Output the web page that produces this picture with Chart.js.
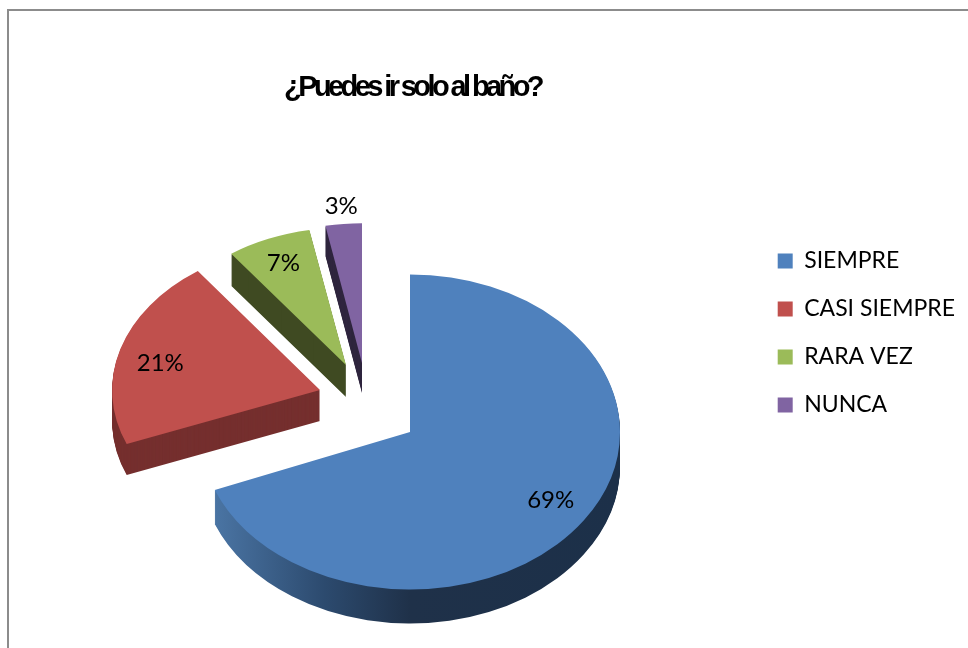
<!DOCTYPE html>
<html>
<head>
<meta charset="utf-8">
<script src="https://cdn.jsdelivr.net/npm/chart.js@4"></script>
<style>
    html, body { margin: 0; padding: 0; background: #fff; overflow: hidden; }
    #marco { position: absolute; left: 7px; top: 9px; right: 0; bottom: 0; border-top: 2px solid #8c8c8c; border-left: 2px solid #8c8c8c; }
    #grafica { position: absolute; left: 0; top: 0; }
</style>
</head>
<body>
<div id="marco"></div>
<canvas id="grafica" width="968" height="648"></canvas>
<script>
const titulo = '¿Puedes ir solo al baño?';
const categorias = ['SIEMPRE', 'CASI SIEMPRE', 'RARA VEZ', 'NUNCA'];
const valores = [69, 21, 7, 3];

const colores = ['#4f81bd', '#c0504d', '#9bbb59', '#8064a2'];
const coloresLado = [null, '#752f2e', '#3f4a22', '#30263f'];

// el falso 3D: separacion de cada porcion y su achatado
const centroPastel = { x: 367, y: 403 };
const separacion = [[43, 29], [-47, -13], [-21, -38], [-5, -40]];
const escalaX = [1, 0.99, 0.93, 0.93];
const escalaY = [0.75, 0.7, 0.655, 0.665];
const fondo = [34, 31, 32, 30];
const radioEtiqueta = [0.81, 0.8, 0.808, 1.13];
const ajusteEtiqueta = [-3, 6, 0, 0];

function colocar(ctx, arc, i) {
    ctx.translate(centroPastel.x + separacion[i][0], centroPastel.y + separacion[i][1]);
    ctx.scale(escalaX[i], escalaY[i]);
    ctx.translate(-arc.x, -arc.y);
}

function ladoAzul(ctx, arc, i) {
    // x de pantalla a x local de la porcion azul
    const apice = centroPastel.x + separacion[i][0];
    const g = ctx.createLinearGradient(arc.x + 216 - apice, 0, arc.x + 620 - apice, 0);
    g.addColorStop(0, '#4a74a3');
    g.addColorStop(0.27, '#2c4a6e');
    g.addColorStop(0.48, '#1f3149');
    g.addColorStop(1, '#1c3049');
    return g;
}

const pastel3D = {
    id: 'pastel3D',
    beforeDraw(chart) {
        if (chart.titleBlock.envuelto) return;
        const dibujar = chart.titleBlock.draw;
        chart.titleBlock.envuelto = true;
        chart.titleBlock.draw = function () {
            const ctx = chart.ctx;
            ctx.save();
            ctx.letterSpacing = '-3.6px';
            ctx.translate(-70, 0);
            dibujar.call(this);
            ctx.restore();
        };
    },
    beforeDatasetDraw(chart) {
        const ctx = chart.ctx;
        const arcos = chart.getDatasetMeta(0).data;
        // de atras hacia adelante
        for (let i = arcos.length - 1; i >= 0; i--) {
            const arc = arcos[i];
            const color = coloresLado[i] || ladoAzul(ctx, arc, i);
            const lado = Object.create(arc, { options: { value: { ...arc.options, backgroundColor: color } } });
            for (let k = fondo[i]; k >= 1; k--) {
                ctx.save();
                ctx.translate(0, k);
                colocar(ctx, arc, i);
                lado.draw(ctx);
                ctx.restore();
            }
            ctx.save();
            colocar(ctx, arc, i);
            arc.draw(ctx);
            ctx.restore();
        }
        // porcentajes
        ctx.save();
        ctx.font = '24px Lato';
        ctx.fillStyle = '#000';
        ctx.textAlign = 'center';
        ctx.textBaseline = 'middle';
        arcos.forEach((arc, i) => {
            const medio = (arc.startAngle + arc.endAngle) / 2;
            const r = arc.outerRadius * radioEtiqueta[i];
            const x = centroPastel.x + separacion[i][0] + Math.cos(medio) * r * escalaX[i];
            const y = centroPastel.y + separacion[i][1] + Math.sin(medio) * r * escalaY[i] + ajusteEtiqueta[i];
            ctx.fillText(valores[i] + '%', x, y);
        });
        ctx.restore();
        return false;
    }
};

new Chart(document.getElementById('grafica'), {
    type: 'pie',
    data: {
        labels: categorias,
        datasets: [{
            data: valores,
            backgroundColor: colores,
            borderWidth: 0
        }]
    },
    options: {
        responsive: false,
        animation: false,
        radius: 210,
        layout: { padding: { top: 18, right: 3 } },
        plugins: {
            title: {
                display: true,
                text: titulo,
                color: '#000',
                font: { family: 'Liberation Sans', size: 29, weight: 'bold' },
                padding: { top: 53, bottom: 10 }
            },
            legend: {
                position: 'right',
                labels: {
                    color: '#000',
                    font: { family: 'Lato', size: 23 },
                    boxWidth: 15,
                    boxHeight: 15,
                    padding: 25
                }
            },
            tooltip: { enabled: false }
        }
    },
    plugins: [pastel3D]
});
</script>
</body>
</html>
